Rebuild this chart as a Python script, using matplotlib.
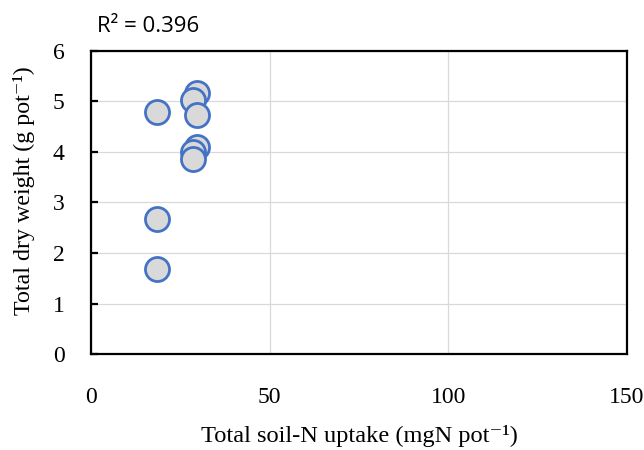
import matplotlib.pyplot as plt

# soil-N uptake (mgN/pot) vs total dry weight (g/pot)
soil_n = [18.4, 18.4, 18.4, 29.6, 28.5, 29.6, 29.6, 28.5, 28.6]
dry_wt = [4.80, 2.67, 1.68, 5.17, 5.02, 4.73, 4.10, 4.00, 3.87]
r2_text = 'R² = 0.396'

plt.rcParams['font.family'] = ['Liberation Serif', 'DejaVu Serif']

fig = plt.figure(figsize=(6.44, 4.5), dpi=100)
ax = fig.add_axes([0.1413, 0.2133, 0.8323, 0.6734])

ax.scatter(soil_n, dry_wt, s=300, facecolor='#D9D9D9', edgecolor='#4472C4',
           linewidth=2.0, zorder=3)

ax.set_xlim(0, 150)
ax.set_ylim(0, 6)
ax.set_xticks([0, 50, 100, 150])
ax.set_yticks(range(7))
ax.grid(True, color='#D9D9D9', linewidth=0.9)
ax.set_axisbelow(True)
for s in ax.spines.values():
    s.set_linewidth(1.6)
    s.set_color('black')

ax.tick_params(axis='x', length=0, pad=24, labelsize=17)
ax.tick_params(axis='y', length=5, width=1.6, direction='in', pad=19, labelsize=17)

ax.set_xlabel('Total soil-N uptake (mgN pot⁻¹)', fontsize=17.6, labelpad=12)
ax.set_ylabel('Total dry weight (g pot⁻¹)', fontsize=17.3)
ax.yaxis.set_label_coords(-0.105, 0.54)

fig.text(0.151, 0.94, r2_text, fontsize=16, family='Open Sans',
         ha='left', va='center')

fig.savefig('out.png', dpi=100)
